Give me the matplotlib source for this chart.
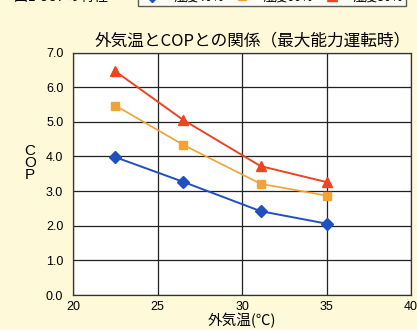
import matplotlib
matplotlib.use('Agg')
import matplotlib.pyplot as plt

plt.rcParams['font.family'] = ['Noto Sans CJK JP', 'DejaVu Sans']

# ---------------------------------------------------------------------------
# Data
# ---------------------------------------------------------------------------
temps = [22.5, 26.5, 31.1, 35.0]
cop_blue = [3.98, 3.27, 2.42, 2.06]
cop_orange = [5.47, 4.34, 3.21, 2.87]
cop_red = [6.46, 5.06, 3.72, 3.26]
series_labels = ['湿度40%', '湿度60%', '湿度80%']

title = '外気温とCOPとの関係（最大能力運転時）'
xlabel = '外気温(℃)'
xticks = [20, 25, 30, 35, 40]
yticks = [0, 1, 2, 3, 4, 5, 6, 7]

bg = '#fdf9d9'

fig = plt.figure(figsize=(4.17, 3.30), dpi=100, facecolor=bg)
ax = fig.add_axes([73 / 417, 35 / 330, 338 / 417, 242.5 / 330])
ax.set_facecolor('white')

ax.plot(temps, cop_blue, color='#1f4fc0', lw=1.4, marker='D', ms=6,
        label=series_labels[0], zorder=3)
ax.plot(temps, cop_orange, color='#f4a232', lw=1.2, marker='s', ms=6,
        label=series_labels[1], zorder=3)
ax.plot(temps, cop_red, color='#ee4422', lw=1.4, marker='^', ms=7,
        label=series_labels[2], zorder=3)

ax.set_xlim(20, 40)
ax.set_ylim(0, 7)
ax.set_xticks(xticks)
ax.set_yticks(yticks)
ax.set_yticklabels([f'{v:.1f}' for v in yticks])
ax.tick_params(axis='y', length=0, labelsize=9, pad=7)
ax.tick_params(axis='x', length=0, labelsize=9, pad=4)
for lab in ax.get_xticklabels() + ax.get_yticklabels():
    lab.set_family(['Liberation Sans', 'DejaVu Sans'])
ax.grid(True, color='#222222', lw=0.9)
ax.set_axisbelow(True)
for s in ax.spines.values():
    s.set_color('#333333')
    s.set_linewidth(0.9)

ax.set_title(title, fontsize=12, pad=5, x=0.53)
ax.set_xlabel(xlabel, fontsize=10.5, labelpad=0)
fig.text(30 / 417, 167 / 330, 'C\nO\nP', fontsize=11, ha='center',
         va='center', linespacing=0.85,
         family=['Liberation Sans', 'DejaVu Sans'])

# legend box, cut off at the top of the picture like the reference
leg = fig.legend(loc='lower left',
                 bbox_to_anchor=(132 / 417, 318 / 330, 280 / 417, 0.1),
                 mode='expand', ncol=3, fontsize=9, frameon=True,
                 fancybox=False, handlelength=1.8, borderpad=0.2)
leg.get_frame().set_edgecolor('#333333')
leg.get_frame().set_facecolor('white')

# caption above, mostly outside the figure
fig.text(14 / 417, 329 / 330, '図1 COPの特性', fontsize=10, va='baseline')

fig.savefig('out.png', dpi=100, facecolor=bg)
